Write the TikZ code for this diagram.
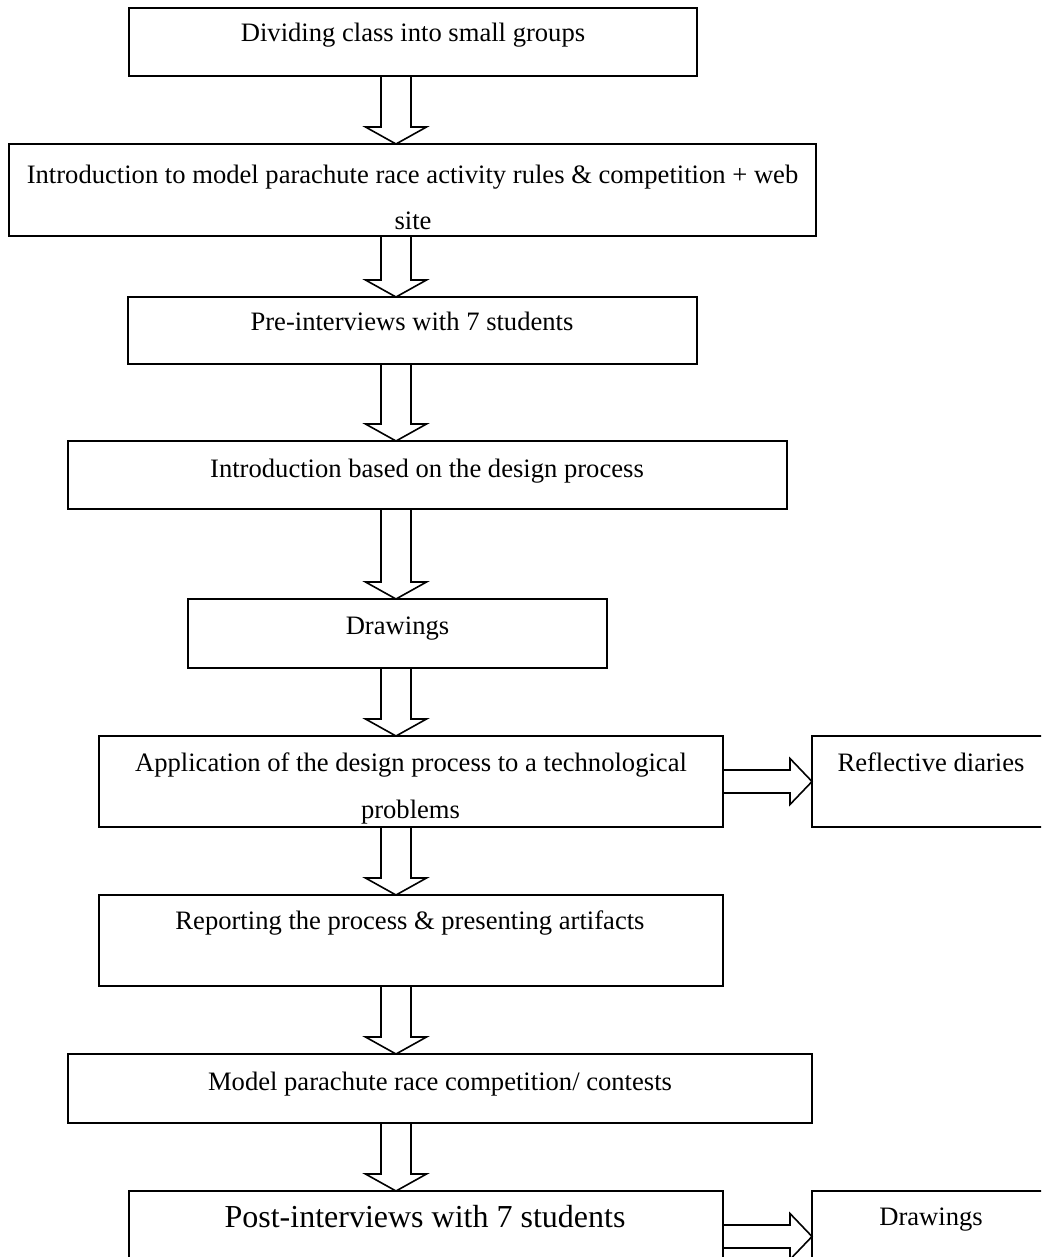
\documentclass[tikz,border=0pt]{standalone}
\usepackage{fontspec}
\setmainfont{Liberation Serif}
\usetikzlibrary{calc}
\tikzset{
  box/.style={draw, line width=1pt, inner sep=0pt, outer sep=0pt},
  txt/.style={inner sep=0pt, anchor=base, font=\fontsize{13.3}{16}\selectfont},
  bigtxt/.style={txt, font=\fontsize{16}{19}\selectfont},
  arr/.style={draw, line width=0.8pt, line join=miter},
}
\newcommand\bx[5]{\node[box, minimum width={(#4-#2)*0.5pt}, minimum height={(#5-#3)*0.5pt}] (#1) at ({(#2+#4)/2},{(#3+#5)/2}) {};}
\newcommand\darr[2]{\draw[arr] ($(ax |- #1.south)+(-15,0)$) -- ($(ax |- #2.north)+(-15,-17)$) -- ++(-15.5,0) -- (ax |- #2.north) -- ++(30.5,-17) -- ++(-15.5,0) -- ($(ax |- #1.south)+(15,0)$) -- cycle;}
\newcommand\rarr[2]{\draw[arr] ($(#1.east)+(0,-11.5)$) -- ($(#2.west |- #1.east)+(-22,-11.5)$) -- ++(0,-11.5) -- (#2.west |- #1.east) -- ++(-22,23) -- ++(0,-11.5) -- ($(#1.east)+(0,11.5)$) -- cycle;}
\begin{document}
\begin{tikzpicture}[x=0.5pt, y=-0.5pt]
\useasboundingbox (0,0) rectangle (1041,1257);
\fill[white] (0,0) rectangle (1041,1257);
\clip (0,0) rectangle (1041,1257);
\coordinate (ax) at (396,0);
% boxes
\bx{b1}{129}{8}{697}{76}
\bx{b2}{9}{144}{816}{236}
\bx{b3}{128}{297}{697}{364}
\bx{b4}{68}{441}{787}{509}
\bx{b5}{188}{599}{607}{668}
\bx{b6}{99}{736}{723}{827}
\bx{bR}{812}{736}{1050}{827}
\bx{b7}{99}{895}{723}{986}
\bx{b8}{68}{1054}{812}{1123}
\bx{b9}{129}{1191}{723}{1282}
\bx{bD}{812}{1191}{1050}{1282}
% texts
\node[txt] (t1) at (413,42) {Dividing class into small groups};
\node[txt] (t2a) at (412.5,184) {Introduction to model parachute race activity rules \& competition + web};
\node[txt] (t2b) at (413,229) {site};
\node[txt] (t3) at (412,330) {Pre-interviews with 7 students};
\node[txt] (t4) at (427,477) {Introduction based on the design process};
\node[txt] (t5) at (397.5,634) {Drawings};
\node[txt] (t6a) at (411,771) {Application of the design process to a technological};
\node[txt] (t6b) at (410.5,818) {problems};
\node[txt] (tR) at (931,771) {Reflective diaries};
\node[txt] (t7) at (410,929) {Reporting the process \& presenting artifacts};
\node[txt] (t8) at (440,1090) {Model parachute race competition/ contests};
\node[bigtxt] (t9) at (425,1227) {Post-interviews with 7 students};
\node[txt] (tD) at (931,1225) {Drawings};
% arrows
\darr{b1}{b2}
\darr{b2}{b3}
\darr{b3}{b4}
\darr{b4}{b5}
\darr{b5}{b6}
\darr{b6}{b7}
\darr{b7}{b8}
\darr{b8}{b9}
\rarr{b6}{bR}
\rarr{b9}{bD}
\end{tikzpicture}
\end{document}
